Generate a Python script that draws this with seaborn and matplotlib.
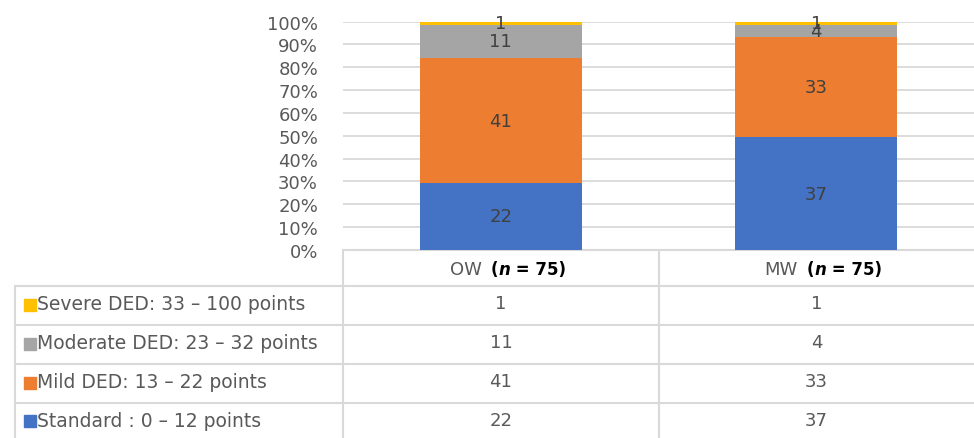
import numpy as np
import pandas as pd
import matplotlib.pyplot as plt
import seaborn as sns
from matplotlib.ticker import PercentFormatter
from matplotlib.patches import Rectangle

# data (counts, n = 75 per group)
groups = ["OW", "MW"]
group_n = [75, 75]
series = ["Standard : 0 \u2013 12 points", "Mild DED: 13 \u2013 22 points",
          "Moderate DED: 23 \u2013 32 points", "Severe DED: 33 \u2013 100 points"]
standard = [22, 37]
mild = [41, 33]
moderate = [11, 4]
severe = [1, 1]
colors = ["#4472C4", "#ED7D31", "#A5A5A5", "#FFC000"]

counts = np.array([standard, mild, moderate, severe], dtype=float)
pct = counts / np.array(group_n) * 100
cum = np.cumsum(pct, axis=0)

sns.set_style("white")
plt.rcParams["font.family"] = ["DejaVu Sans"]

W, H = 974, 439
fig = plt.figure(figsize=(W / 100, H / 100), dpi=100)

# table layer in pixel coordinates
tab = fig.add_axes([0, 0, 1, 1])
tab.set_xlim(0, W)
tab.set_ylim(H, 0)
tab.axis("off")

# chart axes
ax_l, ax_r, ax_t, ax_b = 343, 974, 22.5, 251
ax = fig.add_axes([ax_l / W, (H - ax_b) / H, (ax_r - ax_l) / W, (ax_b - ax_t) / H])
ax.set_facecolor("none")

# stacked bars: draw cumulative totals from the top down
for i in range(len(series) - 1, -1, -1):
    df = pd.DataFrame({"group": groups, "value": cum[i]})
    sns.barplot(data=df, x="group", y="value", color=colors[i], width=0.515,
                saturation=1, linewidth=0, edgecolor="none", ax=ax, zorder=3)

for i in range(len(series)):
    for j in range(len(groups)):
        bottom = cum[i][j] - pct[i][j]
        ax.text(j, bottom + pct[i][j] / 2, f"{int(counts[i][j])}", ha="center",
                va="center", fontsize=13, color="#404040", zorder=4)

ax.set_ylim(0, 100)
ax.set_xlim(-0.5, 1.5)
ax.set_yticks(np.arange(0, 101, 10))
ax.yaxis.set_major_formatter(PercentFormatter(100, decimals=0))
ax.tick_params(axis="y", labelsize=13, colors="#595959", length=0, pad=18)
ax.set_xticks([])
ax.set_xlabel("")
ax.set_ylabel("")
ax.grid(axis="y", color="#D9D9D9", linewidth=1.3, zorder=0)
for s in ax.spines.values():
    s.set_visible(False)

# data table below the chart
line_c = "#D9D9D9"
lw = 1.5
rows_y = [287, 326, 365, 404, 443]
col_x = [15, 343, 659, 974]
tab.plot([col_x[1], col_x[3]], [ax_b, ax_b], color=line_c, lw=lw)
for y in rows_y[:-1]:
    tab.plot([col_x[0], col_x[3]], [y, y], color=line_c, lw=lw)
tab.plot([col_x[0], col_x[0]], [rows_y[0], H], color=line_c, lw=lw)
tab.plot([col_x[1], col_x[1]], [ax_b, H], color=line_c, lw=lw)
tab.plot([col_x[2], col_x[2]], [ax_b, H], color=line_c, lw=lw)

centers = [(col_x[1] + col_x[2]) / 2, (col_x[2] + col_x[3]) / 2]
head_y = (ax_b + rows_y[0]) / 2 + 10
for j, g in enumerate(groups):
    c = centers[j]
    tab.text(c - 19, head_y, g, ha="right", va="bottom", fontsize=13,
             color="#595959")
    t1 = tab.text(c - 10, head_y, "(", ha="left", va="bottom", fontsize=12,
                  fontweight="bold", color="black")
    t2 = tab.annotate("n", xy=(1, 0), xycoords=t1, ha="left", va="bottom",
                      fontsize=12, fontweight="bold", style="italic", color="black")
    tab.annotate(f" = {group_n[j]})", xy=(1, 0), xycoords=t2, ha="left", va="bottom",
                 fontsize=12, fontweight="bold", color="black")

order = [3, 2, 1, 0]
for r, i in enumerate(order):
    yc = (rows_y[r] + rows_y[r + 1]) / 2 - 2
    tab.add_patch(Rectangle((24, yc - 5), 12, 12, color=colors[i]))
    tab.text(37, yc, series[i], ha="left", va="center", fontsize=13.5,
             color="#595959")
    for j in range(len(groups)):
        tab.text(centers[j], yc, f"{int(counts[i][j])}", ha="center", va="center",
                 fontsize=13, color="#595959")

fig.savefig("out.png", dpi=100)
